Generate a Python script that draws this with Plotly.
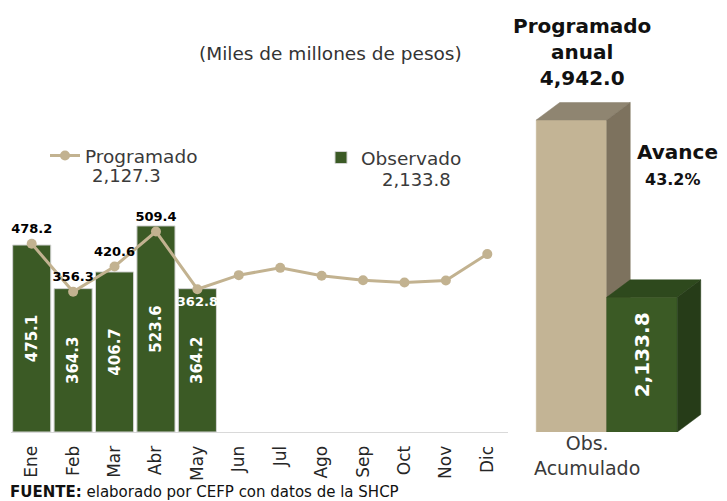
import plotly.graph_objects as go

# ---------------- data ----------------
meses = ["Ene", "Feb", "Mar", "Abr", "May", "Jun", "Jul", "Ago", "Sep", "Oct", "Nov", "Dic"]
programado = [478.2, 356.3, 420.6, 509.4, 362.8, 398.5, 417.0, 397.0, 385.5, 379.7, 385.0, 452.0]
observado = [475.1, 364.3, 406.7, 523.6, 364.2]
n_etiquetas_prog = 5

programado_acum = 2127.3
observado_acum = 2133.8
programado_anual = 4942.0
avance = 43.2

W, H = 727, 501
FONT = "DejaVu Sans"

BEIGE = "#C3B495"
BEIGE_TOP = "#8F8571"
BEIGE_SIDE = "#7D725E"
GREEN = "#3B5A25"
GREEN_TOP = "#2E491D"
GREEN_SIDE = "#263C18"
LINE_COL = "#C2B290"

fig = go.Figure()

# ---------------- left chart ----------------
fig.add_trace(go.Bar(
    x=meses[:len(observado)], y=observado, name="Observado",
    marker=dict(color=GREEN, line=dict(color="#d4d4d4", width=1)),
    text=[f"{v:,.1f}" for v in observado],
    textposition="inside", insidetextanchor="middle", textangle=-90,
    textfont=dict(family=FONT, size=15, color="white", weight="bold"),
    xaxis="x", yaxis="y", legend="legend2",
))

lbl_text = [f"{v:,.1f}" if i < n_etiquetas_prog else "" for i, v in enumerate(programado)]
lbl_pos = ["top center" if i < n_etiquetas_prog - 1 else "bottom center" for i in range(len(programado))]
lbl_col = ["black" if i < n_etiquetas_prog - 1 else "white" for i in range(len(programado))]
fig.add_trace(go.Scatter(
    x=meses, y=programado, name="Programado", mode="lines+markers+text",
    line=dict(color=LINE_COL, width=3),
    marker=dict(color=LINE_COL, size=10),
    text=lbl_text, textposition=lbl_pos,
    textfont=dict(family=FONT, size=13, color=lbl_col, weight="bold"),
    xaxis="x", yaxis="y", legend="legend", cliponaxis=False,
))

# ---------------- right chart (3D style bars) ----------------
dx, dy = 0.333, 277
def faces(c, v, front, top, side):
    out = []
    out.append(([c - .5, c + .5, c + .5, c - .5, c - .5], [0, 0, v, v, 0], front))
    out.append(([c - .5, c + .5, c + .5 + dx, c - .5 + dx, c - .5], [v, v, v + dy, v + dy, v], top))
    out.append(([c + .5, c + .5 + dx, c + .5 + dx, c + .5, c + .5], [0, dy, v + dy, v, 0], side))
    return out

polys = faces(0, programado_anual, BEIGE, BEIGE_TOP, BEIGE_SIDE) + \
        faces(1, observado_acum, GREEN, GREEN_TOP, GREEN_SIDE)
for xs, ys, col in polys:
    fig.add_trace(go.Scatter(
        x=xs, y=ys, mode="lines", fill="toself", fillcolor=col,
        line=dict(color=col, width=0.5), hoverinfo="skip", showlegend=False,
        xaxis="x2", yaxis="y2",
    ))

# ---------------- layout ----------------
ydom = [69 / H, 1]
fig.update_layout(
    width=W, height=H, margin=dict(l=0, r=0, t=0, b=0),
    paper_bgcolor="white", plot_bgcolor="rgba(0,0,0,0)",
    font=dict(family=FONT, color="#3a3a3a"),
    bargap=0.08,
    xaxis=dict(domain=[11 / W, 508 / W], type="category", categoryorder="array",
               categoryarray=meses, range=[-0.5, 11.5],
               showline=True, linecolor="#d9d9d9", linewidth=1, showgrid=False,
               ticks="", tickangle=-90, ticklabelstandoff=6,
               tickfont=dict(family=FONT, size=17, color="#262626"),
               fixedrange=True),
    yaxis=dict(domain=ydom, range=[0, 1097.6], visible=False, fixedrange=True),
    xaxis2=dict(domain=[501 / W, 712.5 / W], range=[-1, 2], visible=False, fixedrange=True),
    yaxis2=dict(domain=ydom, range=[0, 6843], visible=False, anchor="x2", fixedrange=True),
    legend=dict(x=45 / W, y=(H - 156) / H, xanchor="left", yanchor="middle",
                font=dict(family=FONT, size=18.5, color="#3a3a3a"), bgcolor="rgba(0,0,0,0)"),
    legend2=dict(x=321 / W, y=(H - 158) / H, xanchor="left", yanchor="middle",
                 font=dict(family=FONT, size=18.5, color="#3a3a3a"), bgcolor="rgba(0,0,0,0)"),
    showlegend=True,
)

def ann(text, x, y, size, color="#000", bold=False, angle=0, xref="paper", yref="paper", align="center"):
    fig.add_annotation(text=text, x=x, y=y, xref=xref, yref=yref, showarrow=False,
                       xanchor="center", yanchor="middle", align=align, textangle=angle,
                       font=dict(family=FONT, size=size, color=color, weight="bold" if bold else "normal"))

ann("(Miles de millones de pesos)", 330 / W, (H - 53) / H, 18.5, "#333333")
ann(f"{programado_acum:,.1f}", 126 / W, (H - 175) / H, 18, "#3a3a3a")
ann(f"{observado_acum:,.1f}", 417 / W, (H - 180) / H, 18, "#3a3a3a")
ann(f"Programado<br>anual<br>{programado_anual:,.1f}", 582 / W, (H - 52) / H, 20, "#111", bold=True)
ann("Avance", 677 / W, (H - 152) / H, 20, "#111", bold=True)
ann(f"{avance:.1f}%", 673 / W, (H - 180) / H, 16, "#111", bold=True)
ann(f"{observado_acum:,.1f}", 1, observado_acum / 2 + 150, 20, "white", bold=True, angle=-90,
    xref="x2", yref="y2")
ann("Obs.<br>Acumulado", 587 / W, (H - 455.5) / H, 19, "#3a3a3a")
fig.add_annotation(text="<b>FUENTE:</b> elaborado por CEFP con datos de la SHCP",
                   x=8 / W, y=(H - 492) / H, xref="paper", yref="paper", showarrow=False,
                   xanchor="left", yanchor="middle",
                   font=dict(family=FONT, size=15, color="#111"))

fig.write_html("out.html", config={"displayModeBar": False},
               post_script="document.body.style.margin='0';")
